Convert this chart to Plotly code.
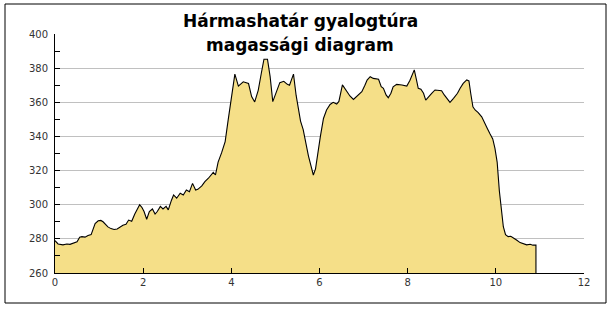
import plotly.graph_objects as go

TITLE_LINES = ["Hármashatár gyalogtúra", "magassági diagram"]

distance_km = [
    0.00, 0.07, 0.18, 0.27, 0.34, 0.41, 0.50, 0.56, 0.61, 0.68, 0.75, 0.82, 0.86, 0.91, 0.98,
    1.04, 1.09, 1.13, 1.20, 1.27, 1.34, 1.41, 1.47, 1.54, 1.61, 1.67, 1.74, 1.81, 1.92, 1.97,
    2.02, 2.08, 2.14, 2.21, 2.27, 2.32, 2.39, 2.45, 2.52, 2.57, 2.64, 2.69, 2.76, 2.84, 2.91,
    2.98, 3.05, 3.12, 3.19, 3.24, 3.33, 3.40, 3.48, 3.55, 3.59, 3.64, 3.70, 3.78, 3.86, 3.93,
    4.01, 4.08, 4.16, 4.27, 4.39, 4.46, 4.53, 4.61, 4.68, 4.74, 4.82, 4.88, 4.94, 5.02, 5.10,
    5.19, 5.27, 5.32, 5.41, 5.47, 5.52, 5.57, 5.63, 5.69, 5.75, 5.81, 5.86, 5.91, 5.97, 6.02,
    6.09, 6.16, 6.24, 6.31, 6.39, 6.44, 6.52, 6.62, 6.69, 6.77, 6.84, 6.96, 7.03, 7.08, 7.15,
    7.22, 7.34, 7.40, 7.45, 7.51, 7.56, 7.62, 7.67, 7.75, 7.87, 7.98, 8.05, 8.11, 8.15, 8.20,
    8.24, 8.30, 8.36, 8.41, 8.47, 8.55, 8.62, 8.70, 8.77, 8.83, 8.90, 8.96, 9.04, 9.13, 9.19,
    9.26, 9.34, 9.39, 9.43, 9.48, 9.53, 9.60, 9.68, 9.73, 9.81, 9.87, 9.93, 9.98, 10.03, 10.08,
    10.13, 10.17, 10.22, 10.28, 10.34, 10.40, 10.47, 10.55, 10.62, 10.70, 10.78, 10.84, 10.91,
]

elevation_m = [
    279, 277, 276.5, 277, 276.8, 277.4, 278.3, 281, 281.3, 281, 282, 282.5, 285.5, 289, 290.6,
    290.8, 290, 288.7, 287, 286, 285.5, 285.8, 287, 288, 288.5, 291, 290.3, 294.5, 300, 298.5,
    296, 291.5, 296, 297.5, 294.5, 296, 299, 297.5, 299, 297, 302.5, 305.7, 303.8, 306.7, 305.7,
    308.6, 307.6, 312.5, 308.6, 309, 311, 313.5, 315.5, 317.5, 319, 317.4, 325, 330.5, 337, 350,
    363.3, 376.5, 369.5, 372, 371, 363.3, 360.2, 367, 377, 385.2, 385.2, 375, 360.4, 365.5, 371.5,
    372.3, 370.5, 370, 376.5, 364, 357, 349, 344, 335.5, 328.5, 322.5, 317.4, 321, 332, 340,
    350.5, 355.5, 358.7, 360, 359, 360.5, 370.2, 366.5, 363.7, 361.7, 363.3, 366.2, 370, 373, 375,
    374, 373.5, 369.1, 368.2, 364.3, 362.7, 365.3, 369.1, 370.5, 370.1, 369.5, 372.8, 377, 379, 373.1,
    368.2, 367.6, 365.3, 361.3, 363.3, 365.3, 367.2, 367.2, 366.8, 364.3, 362.3, 360, 362.3, 365.3, 368.2,
    371.1, 373.1, 372.5, 365.3, 357.4, 355.5, 354, 351.5, 348.5, 344.5, 341.4, 338.5, 333, 325, 308,
    295, 287.1, 282.5, 281.3, 281.5, 280.7, 279.3, 277.8, 277.2, 276.5, 276.8, 276.3, 276.3,
]

X_TICKS = [0, 2, 4, 6, 8, 10, 12]
Y_TICKS = [260, 280, 300, 320, 340, 360, 380, 400]
X_RANGE = [0, 12]
Y_RANGE = [260, 400]

fig = go.Figure()

# filled profile
fig.add_trace(go.Scatter(
    x=distance_km, y=elevation_m, mode="lines",
    line=dict(color="rgba(0,0,0,0)", width=0),
    fill="tozeroy", fillcolor="#F5DF88", hoverinfo="skip", showlegend=False,
))
# outline incl. the drop at the end of the track
fig.add_trace(go.Scatter(
    x=distance_km + [distance_km[-1]], y=elevation_m + [Y_RANGE[0]], mode="lines",
    line=dict(color="black", width=1.1), showlegend=False,
))

tickfont = dict(family="DejaVu Sans, Verdana, sans-serif", size=10, color="#333333")
titlefont = dict(family="DejaVu Sans, Verdana, sans-serif", size=17, color="black", weight="bold")

# plot area: left px 55, right px 584, top px 34, bottom px 273
annotations = []
for line_text, ypx in zip(TITLE_LINES, [21, 45]):
    annotations.append(dict(
        text=line_text, xref="paper", yref="paper",
        x=(300 - 55) / 529, y=(273 - ypx) / 239,
        xanchor="center", yanchor="middle", showarrow=False, font=titlefont,
    ))

fig.update_layout(
    width=613, height=310,
    margin=dict(l=55, r=29, t=34, b=37),
    paper_bgcolor="white", plot_bgcolor="white",
    annotations=annotations,
    xaxis=dict(
        range=X_RANGE, tickvals=X_TICKS, ticktext=[str(v) for v in X_TICKS],
        showgrid=False, zeroline=False, showline=True, linecolor="black", linewidth=1,
        ticks="inside", ticklen=5, tickcolor="black", tickfont=tickfont,
    ),
    yaxis=dict(
        range=Y_RANGE, tickvals=Y_TICKS, ticktext=[str(v) for v in Y_TICKS],
        showgrid=True, gridcolor="#C0C0C0", gridwidth=1, zeroline=False,
        showline=True, linecolor="black", linewidth=1,
        ticks="inside", ticklen=5, tickcolor="black", tickfont=tickfont,
        ticklabelstandoff=4,
        minor=dict(dtick=10, tick0=260, ticks="inside", ticklen=5, tickcolor="black", showgrid=False),
    ),
    shapes=[dict(
        type="rect", xref="paper", yref="paper",
        x0=(5 - 55) / 529, x1=(606 - 55) / 529,
        y0=(273 - 303) / 239, y1=(273 - 4) / 239,
        line=dict(color="black", width=1), fillcolor="rgba(0,0,0,0)", layer="above",
    )],
)

fig.write_html("out.html")
